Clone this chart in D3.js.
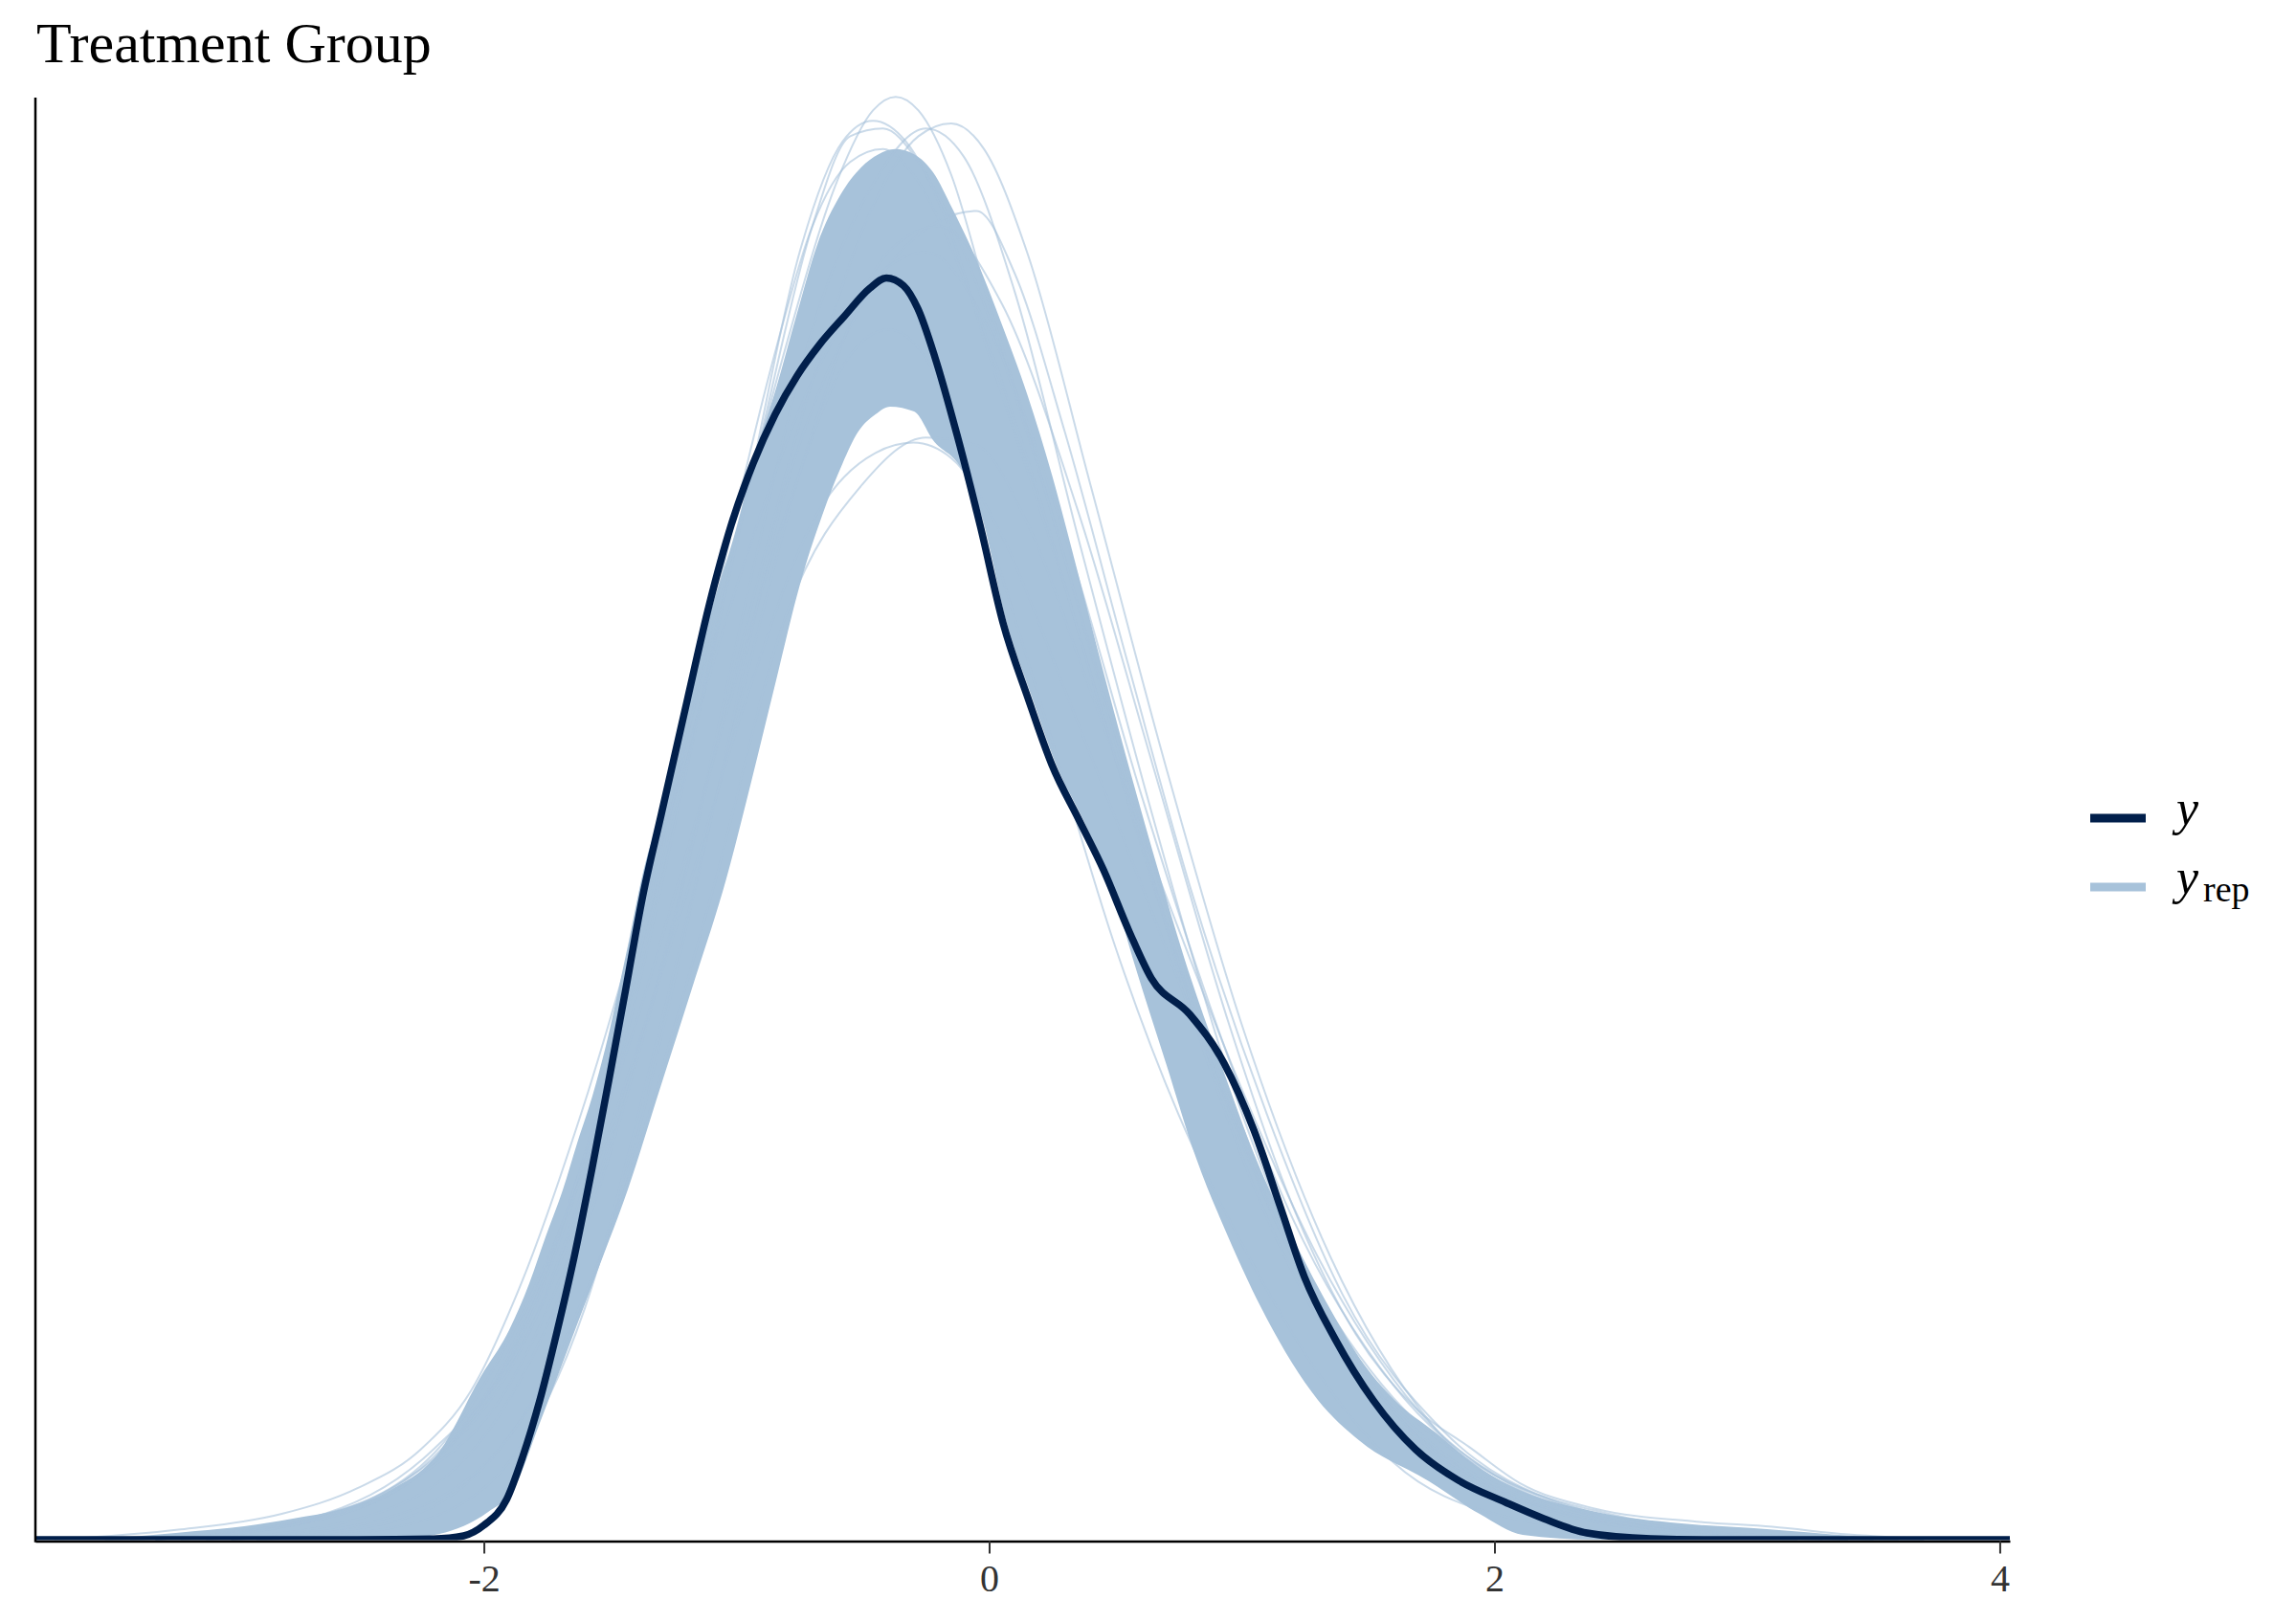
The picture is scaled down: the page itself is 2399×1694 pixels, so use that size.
<!DOCTYPE html>
<html><head><meta charset="utf-8">
<script src="https://cdn.jsdelivr.net/npm/d3@7"></script>
<style>html,body{margin:0;padding:0;background:#fff;} svg{display:block;}</style>
</head><body>
<svg id="chart" width="2399" height="1694"></svg>
<script>
// ---------------- data ----------------
const chartTitle = "Treatment Group";
const xTicks = [-2, 0, 2, 4];
const xDomain = [-3.775, 4.04];
const yDomain = [0, 0.56];
const legendItems = ["y", "yrep"];

// observed density (y)
const yObs = [[-3.775,0],[-2.5,0],[-2.2,0.0003],[-2.08,0.0015],[-2.0,0.0056],[-1.91,0.0156],[-1.847,0.032],[-1.779,0.054],[-1.71,0.081],[-1.642,0.11],[-1.574,0.143],[-1.506,0.178],[-1.438,0.214],[-1.373,0.249],[-1.297,0.282],[-1.195,0.326],[-1.108,0.363],[-1.021,0.394],[-0.934,0.418],[-0.847,0.437],[-0.76,0.452],[-0.672,0.464],[-0.574,0.475],[-0.472,0.486],[-0.407,0.49],[-0.339,0.487],[-0.282,0.478],[-0.214,0.459],[-0.127,0.429],[-0.036,0.394],[0.055,0.356],[0.153,0.327],[0.248,0.301],[0.358,0.279],[0.453,0.26],[0.555,0.236],[0.642,0.218],[0.794,0.204],[0.93,0.185],[1.048,0.159],[1.15,0.13],[1.248,0.102],[1.369,0.078],[1.521,0.054],[1.688,0.035],[1.858,0.023],[2.044,0.0145],[2.195,0.0082],[2.366,0.0026],[2.619,0.0004],[2.9,0],[4.04,0]];

// pointwise upper envelope of the replicated densities
const yrepMax = [[-3.6,0],[-3.452,0.0007],[-3.142,0.0033],[-2.949,0.0052],[-2.756,0.0082],[-2.563,0.0119],[-2.369,0.0193],[-2.176,0.0342],[-2.013,0.0632],[-1.9,0.0814],[-1.82,0.0996],[-1.755,0.1178],[-1.687,0.136],[-1.63,0.1542],[-1.57,0.1724],[-1.52,0.1906],[-1.437,0.2274],[-1.358,0.2638],[-1.3,0.282],[-1.21,0.3203],[-1.095,0.3627],[-1.005,0.3913],[-0.93,0.4195],[-0.84,0.4482],[-0.76,0.4764],[-0.68,0.503],[-0.59,0.522],[-0.506,0.533],[-0.438,0.538],[-0.373,0.54],[-0.297,0.538],[-0.222,0.531],[-0.146,0.517],[-0.05,0.497],[0.05,0.472],[0.15,0.445],[0.25,0.413],[0.35,0.376],[0.455,0.336],[0.562,0.297],[0.672,0.259],[0.767,0.2275],[0.93,0.1813],[1.048,0.1498],[1.199,0.1178],[1.369,0.0862],[1.468,0.0702],[1.604,0.0543],[1.767,0.0416],[1.919,0.0294],[2.066,0.0208],[2.403,0.0108],[2.74,0.0063],[3.078,0.0041],[3.419,0.0015],[3.756,0]];

// pointwise lower envelope of the replicated densities
const yrepMin = [[-3.775,0],[-2.369,0],[-2.176,0.0022],[-1.983,0.0108],[-1.884,0.0193],[-1.78,0.045],[-1.66,0.076],[-1.54,0.107],[-1.43,0.136],[-1.3,0.176],[-1.17,0.216],[-1.04,0.2568],[-0.94,0.295],[-0.84,0.335],[-0.75,0.3705],[-0.66,0.398],[-0.58,0.418],[-0.52,0.43],[-0.45,0.437],[-0.392,0.44],[-0.297,0.4381],[-0.222,0.427],[-0.112,0.4162],[-0.032,0.3984],[0.07,0.356],[0.17,0.327],[0.265,0.301],[0.375,0.279],[0.47,0.258],[0.58,0.222],[0.7,0.185],[0.82,0.148],[0.945,0.1178],[1.097,0.0862],[1.301,0.0543],[1.468,0.0383],[1.741,0.0227],[1.941,0.01],[2.112,0.0019],[2.403,0],[4.04,0]];

// individual replicated densities that stand out from the bundle
const yrepDraws = [
 [[-3.5,0],[-3.0,0.003],[-2.5,0.012],[-2.2,0.03],[-1.9,0.07],[-1.6,0.15],[-1.3,0.27],[-1.0,0.39],[-0.8,0.465],[-0.6,0.528],[-0.46,0.555],[-0.37,0.5603],[-0.28,0.555],[-0.15,0.53],[0.0,0.48],[0.2,0.415],[0.5,0.31],[0.8,0.205],[1.1,0.125],[1.4,0.07],[1.8,0.03],[2.3,0.01],[3.0,0.002],[3.6,0]],
 [[-3.3,0],[-2.7,0.008],[-2.2,0.032],[-1.8,0.09],[-1.5,0.18],[-1.2,0.3],[-0.95,0.41],[-0.75,0.5],[-0.58,0.543],[-0.46,0.551],[-0.33,0.543],[-0.18,0.515],[0.0,0.46],[0.3,0.37],[0.6,0.27],[0.9,0.18],[1.2,0.11],[1.6,0.05],[2.1,0.016],[2.8,0.003],[3.4,0]],
 [[-3.4,0],[-2.8,0.005],[-2.3,0.022],[-1.9,0.06],[-1.5,0.155],[-1.2,0.26],[-0.95,0.37],[-0.7,0.47],[-0.45,0.528],[-0.25,0.548],[-0.1,0.537],[0.1,0.485],[0.35,0.39],[0.65,0.28],[0.95,0.18],[1.3,0.095],[1.7,0.042],[2.2,0.014],[2.9,0.002],[3.5,0]],
 [[-3.0,0],[-2.4,0.008],[-1.9,0.04],[-1.5,0.12],[-1.1,0.28],[-0.8,0.41],[-0.5,0.48],[-0.2,0.512],[-0.05,0.516],[0.1,0.492],[0.3,0.43],[0.55,0.34],[0.8,0.252],[1.1,0.165],[1.4,0.095],[1.8,0.042],[2.3,0.013],[3.0,0.002],[3.7,0]],
 [[-3.3,0],[-2.7,0.008],[-2.2,0.035],[-1.8,0.085],[-1.5,0.16],[-1.2,0.25],[-0.95,0.33],[-0.7,0.395],[-0.45,0.422],[-0.3,0.426],[-0.15,0.42],[0.05,0.39],[0.3,0.33],[0.6,0.255],[0.9,0.18],[1.25,0.105],[1.6,0.055],[2.0,0.025],[2.5,0.009],[3.2,0.001],[3.7,0]],
 [[-3.0,0],[-2.4,0.006],[-1.9,0.04],[-1.5,0.12],[-1.1,0.25],[-0.8,0.36],[-0.5,0.41],[-0.25,0.428],[-0.05,0.425],[0.15,0.395],[0.4,0.33],[0.7,0.25],[1.0,0.175],[1.3,0.11],[1.7,0.05],[2.2,0.016],[2.9,0.002],[3.5,0]],
 [[-3.7,0],[-3.2,0.004],[-2.8,0.01],[-2.5,0.02],[-2.25,0.035],[-2.05,0.058],[-1.85,0.1],[-1.6,0.17],[-1.3,0.27],[-1.0,0.37],[-0.7,0.45],[-0.45,0.49],[-0.25,0.5],[0.0,0.47],[0.3,0.39],[0.6,0.29],[0.9,0.2],[1.2,0.125],[1.6,0.06],[2.0,0.025],[2.6,0.006],[3.3,0]],
 [[-2.9,0],[-2.4,0.004],[-2.0,0.02],[-1.6,0.09],[-1.3,0.2],[-1.0,0.32],[-0.7,0.43],[-0.4,0.5],[-0.2,0.51],[0.05,0.48],[0.35,0.4],[0.65,0.3],[0.95,0.2],[1.2,0.13],[1.45,0.08],[1.7,0.05],[1.9,0.036],[2.1,0.022],[2.4,0.012],[2.8,0.007],[3.1,0.005],[3.4,0.002],[3.8,0]],
 [[-3.2,0],[-2.6,0.01],[-2.1,0.045],[-1.7,0.12],[-1.4,0.2],[-1.1,0.3],[-0.8,0.4],[-0.55,0.46],[-0.4,0.47],[-0.2,0.45],[0.0,0.39],[0.25,0.31],[0.5,0.23],[0.75,0.165],[1.0,0.115],[1.3,0.065],[1.6,0.03],[2.0,0.01],[2.6,0.002],[3.2,0]],
 [[-3.4,0],[-2.9,0.004],[-2.4,0.018],[-2.0,0.055],[-1.7,0.12],[-1.45,0.2],[-1.2,0.31],[-1.0,0.4],[-0.85,0.46],[-0.7,0.51],[-0.55,0.535],[-0.42,0.54],[-0.3,0.53],[-0.1,0.49],[0.15,0.42],[0.45,0.32],[0.8,0.21],[1.2,0.11],[1.6,0.05],[2.1,0.016],[2.8,0.002],[3.4,0]],
 [[-3.3,0],[-2.7,0.007],[-2.2,0.03],[-1.8,0.085],[-1.45,0.19],[-1.15,0.32],[-0.9,0.43],[-0.7,0.51],[-0.55,0.545],[-0.42,0.548],[-0.28,0.535],[-0.1,0.5],[0.15,0.43],[0.45,0.33],[0.8,0.215],[1.2,0.115],[1.6,0.05],[2.1,0.015],[2.8,0.002],[3.4,0]],
 [[-3.1,0],[-2.5,0.008],[-2.0,0.04],[-1.6,0.12],[-1.3,0.22],[-1.0,0.34],[-0.7,0.45],[-0.45,0.52],[-0.28,0.545],[-0.15,0.55],[-0.02,0.54],[0.15,0.5],[0.4,0.41],[0.7,0.3],[1.0,0.2],[1.35,0.11],[1.75,0.045],[2.3,0.012],[3.0,0.001],[3.6,0]]
];

// ---------------- drawing ----------------
const colY = "#011f4b", colRep = "#a7c2da";
const serif = "'Liberation Serif','Times New Roman',Times,serif";
const svg = d3.select("#chart");
const pLeft = 37, pRight = 2100, pTop = 102, pBottom = 1609;

const x = d3.scaleLinear().domain(xDomain).range([pLeft, pRight]);
const y = d3.scaleLinear().domain(yDomain).range([pBottom, pTop]);

svg.append("defs").append("clipPath").attr("id", "panel")
  .append("rect").attr("x", pLeft).attr("y", 0).attr("width", pRight - pLeft + 1).attr("height", pBottom + 0.5);

const g = svg.append("g").attr("clip-path", "url(#panel)");

const area = d3.area().x(d => x(d[0])).y0(y(0)).y1(d => y(d[1])).curve(d3.curveMonotoneX);
const line = d3.line().x(d => x(d[0])).y(d => y(d[1])).curve(d3.curveMonotoneX);

g.append("path").datum(yrepMax).attr("d", area).attr("fill", colRep);
g.append("path").datum(yrepMin).attr("d", area).attr("fill", "#fff");

g.selectAll("path.rep").data(yrepDraws).join("path").attr("class", "rep")
  .attr("d", line).attr("fill", "none").attr("stroke", colRep)
  .attr("stroke-width", 2).attr("stroke-opacity", 0.6);

g.append("path").datum(yObs).attr("d", line).attr("fill", "none")
  .attr("stroke", colY).attr("stroke-width", 7.5).attr("stroke-linejoin", "round");

// axes
const xAxis = d3.axisBottom(x).tickValues(xTicks).tickFormat(d => String(d))
  .tickSize(13).tickSizeOuter(0).tickPadding(11);
const ax = svg.append("g").attr("transform", `translate(0,${pBottom + 1.5})`).call(xAxis);
ax.select(".domain").attr("stroke", "#000").attr("stroke-width", 2.5);
ax.selectAll(".tick line").attr("stroke", "#333").attr("stroke-width", 2);
ax.selectAll(".tick text").attr("fill", "#333").style("font-family", serif).style("font-size", "40px");

svg.append("line").attr("x1", pLeft).attr("x2", pLeft).attr("y1", pTop).attr("y2", pBottom + 2.75)
  .attr("stroke", "#000").attr("stroke-width", 2.5);

// title
svg.append("text").attr("x", 38).attr("y", 65).text(chartTitle)
  .style("font-family", serif).style("font-size", "60px").attr("fill", "#000");

// legend
const lg = svg.append("g");
const keyCols = [colY, colRep];
const keyY = [855, 927];
legendItems.forEach((lab, i) => {
  lg.append("line").attr("x1", 2184).attr("x2", 2242).attr("y1", keyY[i]).attr("y2", keyY[i])
    .attr("stroke", keyCols[i]).attr("stroke-width", 9);
  lg.append("text").attr("x", 2274).attr("y", keyY[i] + 7).text("y")
    .style("font-family", serif).style("font-style", "italic").style("font-size", "52px");
  if (lab === "yrep") {
    lg.append("text").attr("x", 2302).attr("y", keyY[i] + 15).text("rep")
      .style("font-family", serif).style("font-size", "38px");
  }
});
</script>
</body></html>
